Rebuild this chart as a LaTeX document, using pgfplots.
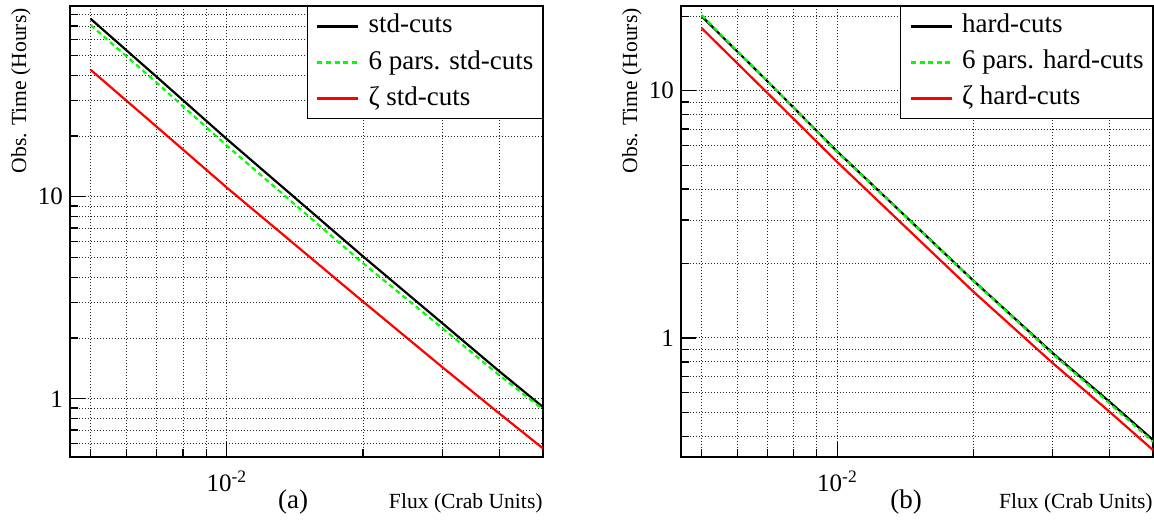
\documentclass[border=0pt]{standalone}
\usepackage{fontspec}
\setmainfont{Liberation Serif}
\usepackage{pgfplots}
\pgfplotsset{compat=1.18}
\definecolor{rgreen}{RGB}{0,255,0}
\definecolor{rred}{RGB}{255,0,0}
\tikzset{
 blk/.style={black, line width=1.1pt},
 grn/.style={rgreen, line width=1.1pt, dash pattern=on 2.5pt off 1.8pt},
 rd/.style={rred, line width=1.1pt},
}
\pgfplotsset{
 every axis/.append style={
  scale only axis,
  xmin=0.0045, xmax=0.05,
  height=225.5pt,
  anchor=south west,
  tick align=inside, tick pos=left,
  major tick length=7.5pt, minor tick length=4pt,
  every tick/.append style={black, line width=0.6pt},
  xtick={0.01}, xticklabels={10\textsuperscript{-2}},
  minor xtick={0.005,0.006,0.007,0.008,0.009,0.02,0.03,0.04,0.05},
  grid=both,
  major grid style={black!85, line width=0.45pt, dash pattern=on 0.6pt off 0.9pt},
  minor grid style={black!85, line width=0.45pt, dash pattern=on 0.6pt off 0.9pt},
  axis line style={line width=0.8pt},
  tick label style={font=\fontsize{12.5}{14}\selectfont},
  xticklabel style={yshift=-3.5pt},
  label style={font=\fontsize{10.8}{13}\selectfont},
  xlabel={Flux (Crab Units)},
  xlabel style={at={(axis description cs:1,-0.1131)}, anchor=base east, inner sep=0pt},
  ylabel={Obs. Time (Hours)},
  ylabel style={at={(axis description cs:-0.1037,1)}, anchor=east, inner sep=1pt},
  legend style={at={(1,1)}, anchor=north east, draw=black, line width=0.5pt, fill=white,
    font=\fontsize{13.5}{16}\selectfont, inner xsep=4.5pt, inner ysep=3.25pt,
    row sep=4.5pt, column sep=4.5pt,
    nodes={inner sep=0pt, text height=10pt, text depth=3.5pt}},
  legend cell align=left,
 },
 legend image code/.code={\draw[#1] (0pt,0pt) -- (20.5pt,0pt);},
}
\begin{document}
\begin{tikzpicture}
\useasboundingbox (0,0) rectangle (577pt,260pt);
\begin{loglogaxis}[at={(35pt,31.5pt)}, width=236.5pt,
  ymin=0.515, ymax=88,
  ytick={1,10}, yticklabels={1,10},
  minor ytick={0.6,0.7,0.8,0.9,2,3,4,5,6,7,8,9,20,30,40,50,60,70,80},
  extra description/.code={\node[font=\fontsize{13.5}{16}\selectfont, anchor=base] at (0.4715,-0.1131) {(a)};}]
\addplot[blk] coordinates {(0.005,76) (0.007,39.2) (0.01,19.3) (0.02,5.07) (0.03,2.36) (0.04,1.37) (0.05,0.91)};
\addlegendentry{std-cuts}
\addplot[grn] coordinates {(0.005,70.8) (0.007,36.7) (0.01,17.9) (0.02,4.69) (0.03,2.23) (0.04,1.31) (0.05,0.886)};
\addlegendentry{6 pars. std-cuts}
\addplot[rd] coordinates {(0.005,42.5) (0.007,22.2) (0.01,11.1) (0.02,3.03) (0.03,1.43) (0.04,0.847) (0.05,0.568)};
\addlegendentry{ζ std-cuts}
\end{loglogaxis}
\begin{loglogaxis}[at={(340.5pt,31.5pt)}, width=236pt,
  ymin=0.33, ymax=22,
  ytick={1,10}, yticklabels={1,10},
  minor ytick={0.4,0.5,0.6,0.7,0.8,0.9,2,3,4,5,6,7,8,9,20},
  extra description/.code={\node[font=\fontsize{13.5}{16}\selectfont, anchor=base] at (0.4767,-0.1131) {(b)};}]
\addplot[blk] coordinates {(0.005,20.0) (0.007,10.9) (0.01,5.66) (0.02,1.705) (0.03,0.867) (0.04,0.553) (0.05,0.387)};
\addlegendentry{hard-cuts}
\addplot[grn] coordinates {(0.005,20.2) (0.007,10.9) (0.01,5.64) (0.02,1.70) (0.03,0.86) (0.04,0.545) (0.05,0.38)};
\addlegendentry{6 pars. hard-cuts}
\addplot[rd] coordinates {(0.005,17.9) (0.007,9.77) (0.01,5.13) (0.02,1.539) (0.03,0.79) (0.04,0.504) (0.05,0.352)};
\addlegendentry{ζ hard-cuts}
\end{loglogaxis}
\end{tikzpicture}
\end{document}
